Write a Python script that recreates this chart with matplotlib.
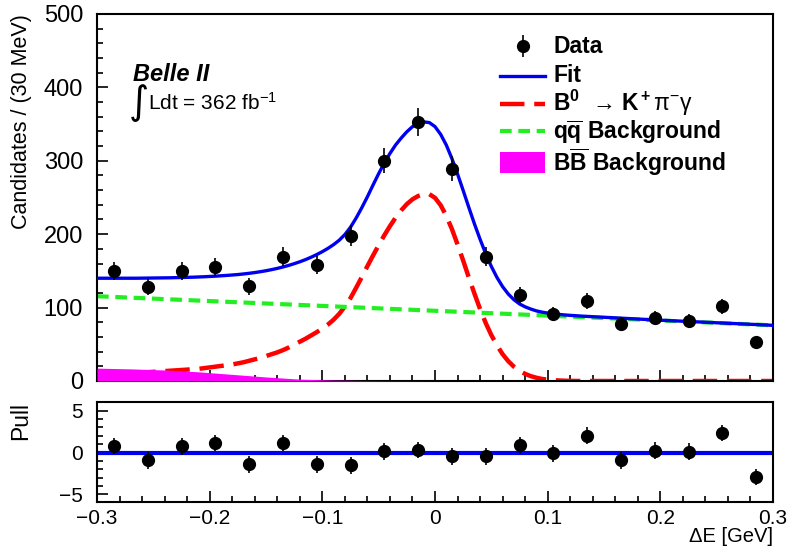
"""
Delta-E fit projection with pull panel (B0 -> K+ pi- gamma).
Values read off the reference picture.
"""

import matplotlib

matplotlib.use("Agg")
import matplotlib.pyplot as plt
import numpy as np
from matplotlib.lines import Line2D
from matplotlib.patches import Rectangle
from matplotlib.ticker import MultipleLocator

plt.rcParams["font.family"] = ["Liberation Sans", "DejaVu Sans"]
plt.rcParams["mathtext.fontset"] = "custom"
plt.rcParams["mathtext.rm"] = "Liberation Sans"
plt.rcParams["mathtext.bf"] = "Liberation Sans:bold"
plt.rcParams["mathtext.it"] = "Liberation Sans:italic"

# data points (bin centres, 30 MeV bins)
bin_x = [-0.285, -0.255, -0.225, -0.195, -0.165, -0.135, -0.105, -0.075, -0.045, -0.015,
         0.015, 0.045, 0.075, 0.105, 0.135, 0.165, 0.195, 0.225, 0.255, 0.285]
counts = [150, 128, 150, 155, 129, 169, 158, 198, 300, 353,
          289, 169, 117, 91, 109, 78, 86, 82, 102, 53]
pulls = [0.8, -0.9, 0.75, 1.15, -1.4, 1.15, -1.4, -1.5, 0.15, 0.3,
         -0.45, -0.45, 0.85, -0.1, 2.0, -0.9, 0.25, 0.1, 2.35, -2.9]

# fit curves sampled every 5 MeV from -0.30 to 0.30
curve_x = np.linspace(-0.3, 0.3, 121)
fit_y = [140.0, 140.0, 140.0, 140.0, 140.0, 140.0, 140.0, 140.0, 140.1, 140.2,
         140.3, 140.4, 140.5, 140.6, 140.8, 141.0, 141.2, 141.4, 141.7, 142.0,
         142.4, 142.8, 143.3, 143.8, 144.4, 145.0, 145.8, 146.7, 147.7, 148.9,
         150.2, 151.7, 153.4, 155.3, 157.4, 159.8, 162.4, 165.3, 168.6, 172.2,
         176.2, 180.7, 185.8, 191.8, 199.5, 209.5, 222.0, 236.0, 251.0, 267.0,
         282.5, 297.0, 310.0, 321.5, 331.0, 339.5, 346.5, 351.0, 353.0, 352.0,
         346.5, 336.0, 321.5, 303.0, 282.0, 259.5, 236.5, 214.0, 193.0, 173.5,
         156.0, 141.0, 128.5, 118.5, 110.8, 105.0, 101.0, 98.0, 95.5, 93.8,
         92.5, 91.5, 90.7, 90.0, 89.4, 88.9, 88.4, 88.0, 87.6, 87.2,
         86.8, 86.4, 86.0, 85.6, 85.2, 84.8, 84.4, 84.0, 83.6, 83.2,
         82.8, 82.5, 82.1, 81.8, 81.4, 81.1, 80.7, 80.4, 80.0, 79.7,
         79.3, 79.0, 78.6, 78.3, 77.9, 77.6, 77.2, 76.9, 76.5, 76.2,
         75.8]
signal_y = [8.8, 9.1, 9.4, 9.7, 10.0, 10.3, 10.7, 11.0, 11.5, 12.0,
            12.5, 13.0, 13.5, 14.0, 14.5, 15.0, 15.5, 16.0, 16.5, 17.5,
            18.5, 19.5, 20.5, 21.5, 22.5, 24.0, 25.5, 27.5, 29.5, 31.5,
            34.0, 36.5, 39.0, 42.0, 45.5, 49.5, 53.5, 57.5, 62.0, 66.5,
            71.5, 77.0, 83.5, 91.5, 101.5, 113.0, 127.0, 141.5, 156.5, 171.0,
            185.0, 198.5, 211.0, 222.5, 232.5, 241.0, 247.5, 252.0, 254.5, 254.5,
            249.5, 239.5, 225.0, 207.0, 186.0, 164.0, 141.0, 119.0, 98.0, 79.0,
            62.5, 48.5, 36.5, 27.0, 19.5, 14.0, 9.7, 6.6, 4.4, 2.8,
            1.8, 1.1, 0.7, 0.4, 0.2, 0.1, 0, 0, 0, 0,
            0, 0, 0, 0, 0, 0, 0, 0, 0, 0,
            0, 0, 0, 0, 0, 0, 0, 0, 0, 0,
            0, 0, 0, 0, 0, 0, 0, 0, 0, 0,
            0]

# continuum (q qbar) background: straight line
qq_x = [-0.3, 0.3]
qq_y = [115.5, 75.8]

# B Bbar background, sampled every 30 MeV
bb_x = np.linspace(-0.3, 0.3, 21)
bb_y = [17.5, 16.5, 15, 12.5, 9, 5.5, 2.5, 1.2, 0.6, 0.3,
        0.1, 0, 0, 0, 0, 0, 0, 0, 0, 0, 0]

BLUE = "#0000f0"
RED = "#ff0000"
GREEN = "#22ee22"
MAGENTA = "#ff00ff"
FS = 15
LEG_FS = 16.5
RED_LS = (0, (5.5, 2.2))
GREEN_LS = (0, (2.8, 1.6))


def _style_axes(ax, ysize):
    for sp in ax.spines.values():
        sp.set_linewidth(1.5)
    ax.tick_params(which="both", direction="in", top=False, right=False, width=1.2)
    ax.tick_params(which="major", length=8)
    ax.tick_params(which="minor", length=4)
    ax.tick_params(axis="y", pad=10, labelsize=ysize)
    ax.tick_params(axis="x", pad=5, labelsize=FS)
    ax.xaxis.set_major_locator(MultipleLocator(0.1))
    ax.xaxis.set_minor_locator(MultipleLocator(0.02))
    ax.set_xlim(-0.3, 0.3)


def _legend(ax):
    # rows placed by hand (axes fractions) so the spacing stays even
    tr = ax.transAxes
    x0, x1, xt = 0.596, 0.663, 0.675
    prop = dict(transform=tr, fontsize=LEG_FS, fontweight="bold", va="baseline", ha="left")

    ax.errorbar([0.5 * (x0 + x1)], [0.912], yerr=[0.03], fmt="o", color="black",
                ms=8.5, elinewidth=1.2, capsize=0, transform=tr, clip_on=False)
    ax.text(xt, 0.893, "Data", **prop)

    ax.add_line(Line2D([x0, x1], [0.831], color=BLUE, lw=2.4, transform=tr))
    ax.text(xt, 0.814, "Fit", **prop)

    ax.add_line(Line2D([x0, x1], [0.754], color=RED, lw=3.2, ls=RED_LS, transform=tr))
    ax.text(xt, 0.737,
            r"$\mathbf{B^0}$  \u2192 $\mathbf{K^+}\mathrm{\pi^{-}\gamma}$".replace("\\u2192", "\u2192"),
            **prop)

    ax.add_line(Line2D([x0, x1], [0.680], color=GREEN, lw=3.0, ls=GREEN_LS, transform=tr))
    ax.text(xt, 0.660, r"$\mathbf{q\overline{q}}$ Background", **prop)

    ax.add_patch(Rectangle((x0, 0.567), x1 - x0, 0.058, facecolor=MAGENTA,
                           edgecolor="none", transform=tr))
    ax.text(xt, 0.572, r"$\mathbf{B\overline{B}}$ Background", **prop)


def main():
    fig = plt.figure(figsize=(7.88, 5.52), dpi=100)
    ax = fig.add_axes([0.1231, 0.3098, 0.8579, 0.6649])
    axp = fig.add_axes([0.1231, 0.0906, 0.8579, 0.1812])

    y = np.array(counts, dtype=float)
    yerr = np.sqrt(y)

    ax.fill_between(bb_x, 0, bb_y, color=MAGENTA, lw=0, zorder=3)
    ax.plot(curve_x, signal_y, color=RED, lw=3.2, ls=RED_LS, zorder=2)
    ax.plot(qq_x, qq_y, color=GREEN, lw=3.0, ls=GREEN_LS, zorder=2)
    ax.plot(curve_x, fit_y, color=BLUE, lw=2.4, zorder=4)
    ax.errorbar(bin_x, y, yerr=yerr, fmt="o", color="black", ms=8.5,
                elinewidth=1.2, capsize=0, zorder=5)

    ax.set_ylim(0, 500)
    ax.yaxis.set_major_locator(MultipleLocator(100))
    ax.yaxis.set_minor_locator(MultipleLocator(20))
    _style_axes(ax, 17)
    ax.tick_params(axis="x", labelbottom=False)
    ax.set_ylabel("Candidates / (30 MeV)", fontsize=15.5, loc="top")
    ax.yaxis.set_label_coords(-0.096, 1.0)

    ax.text(0.053, 0.836, "Belle II", transform=ax.transAxes, fontsize=17,
            fontweight="bold", fontstyle="italic", va="center", ha="left")
    ax.text(0.047, 0.758, "\u222b", transform=ax.transAxes, fontsize=28,
            family=["DejaVu Sans"], va="center", ha="left")
    ax.text(0.075, 0.758, r"Ldt = 362 fb$^{\mathregular{-1}}$", transform=ax.transAxes,
            fontsize=FS, va="center", ha="left")

    _legend(ax)

    # pull panel
    axp.axhline(0, color=BLUE, lw=3, zorder=2)
    axp.errorbar(bin_x, pulls, yerr=np.ones(len(pulls)), fmt="o", color="black",
                 ms=8.5, elinewidth=1.2, capsize=0, zorder=5)
    axp.set_ylim(-5.9, 6.05)
    axp.yaxis.set_major_locator(MultipleLocator(5))
    axp.yaxis.set_minor_locator(MultipleLocator(1))
    _style_axes(axp, FS)
    axp.xaxis.set_major_formatter(plt.FuncFormatter(
        lambda v, _: "0" if abs(v) < 1e-9 else f"{v:.1f}".replace("-", "\u2212")))
    axp.set_ylabel("Pull", fontsize=16.5, loc="top")
    axp.yaxis.set_label_coords(-0.096, 1.0)
    axp.set_xlabel("\u0394E [GeV]", fontsize=14.5, loc="right")
    axp.xaxis.set_label_coords(1.0, -0.25)

    fig.savefig("out.png", dpi=100)
    plt.close(fig)


if __name__ == "__main__":
    main()
